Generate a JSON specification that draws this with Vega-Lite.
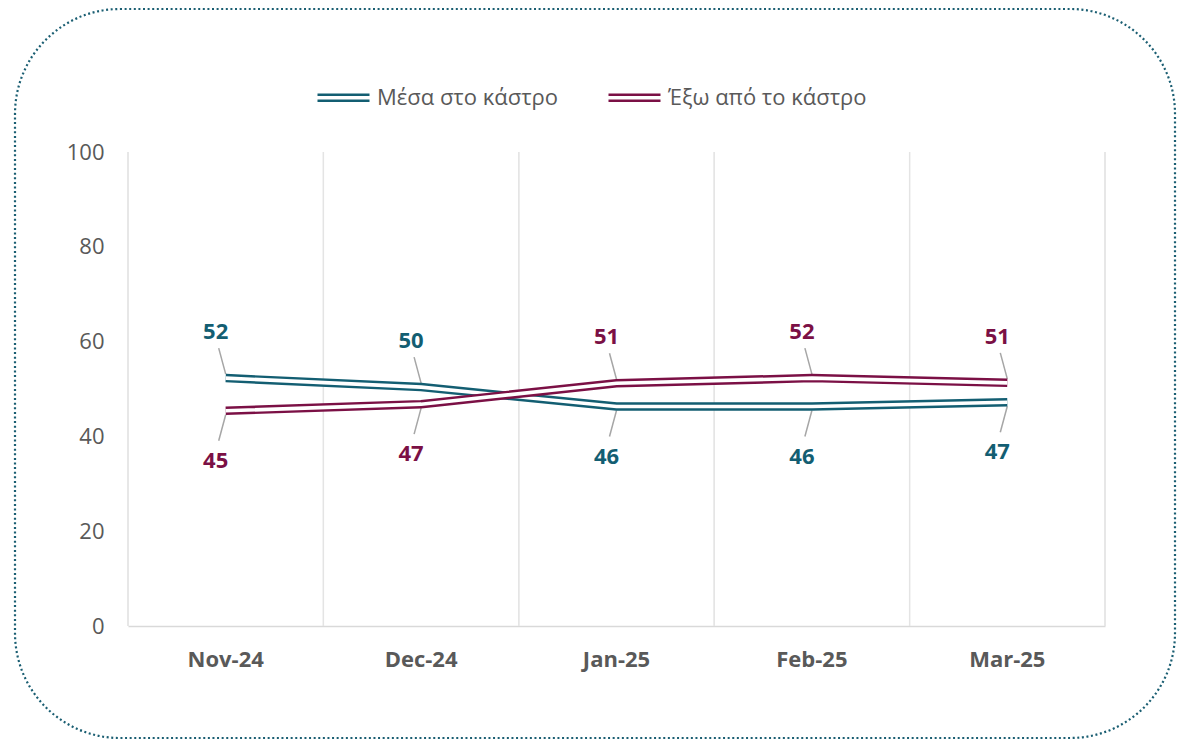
{
  "$schema": "https://vega.github.io/schema/vega-lite/v6.json",
  "autosize": {"type": "none"},
  "padding": {"left": 15, "top": 9, "right": 3, "bottom": 3},
  "width": 1160,
  "height": 729,
  "background": "white",
  "config": {
    "font": "Open Sans",
    "view": {"stroke": "#1A5E72", "strokeWidth": 2.2, "strokeDash": [2, 2.6], "cornerRadius": 105, "fill": "white"}
  },
  "data": {
    "values": [
      {"month": "Nov-24", "series": "Μέσα στο κάστρο", "value": 52.3},
      {"month": "Dec-24", "series": "Μέσα στο κάστρο", "value": 50.4},
      {"month": "Jan-25", "series": "Μέσα στο κάστρο", "value": 46.3},
      {"month": "Feb-25", "series": "Μέσα στο κάστρο", "value": 46.3},
      {"month": "Mar-25", "series": "Μέσα στο κάστρο", "value": 47.2},
      {"month": "Nov-24", "series": "Έξω από το κάστρο", "value": 45.4},
      {"month": "Dec-24", "series": "Έξω από το κάστρο", "value": 46.8},
      {"month": "Jan-25", "series": "Έξω από το κάστρο", "value": 51.2},
      {"month": "Feb-25", "series": "Έξω από το κάστρο", "value": 52.3},
      {"month": "Mar-25", "series": "Έξω από το κάστρο", "value": 51.3}
    ]
  },
  "transform": [
    {"joinaggregate": [{"op": "max", "field": "value", "as": "maxv"}], "groupby": ["month"]}
  ],
  "encoding": {
    "x": {
      "field": "month", "type": "nominal",
      "scale": {"type": "band", "domain": ["Nov-24", "Dec-24", "Jan-25", "Feb-25", "Mar-25"], "range": [113, 1090], "paddingInner": 0, "paddingOuter": 0},
      "axis": {
        "title": null, "orient": "bottom", "offset": -112, "labelAngle": 0,
        "ticks": false, "grid": false,
        "domainColor": "#D9D9D9", "domainWidth": 1.5,
        "labelFont": "Open Sans", "labelFontSize": 22, "labelFontWeight": "bold", "labelColor": "#595959", "labelPadding": 23
      }
    },
    "y": {
      "field": "value", "type": "quantitative",
      "scale": {"domain": [0, 100], "range": [617, 143], "nice": false, "zero": true},
      "axis": {
        "title": null, "orient": "left", "offset": -113, "values": [0, 20, 40, 60, 80, 100],
        "grid": false, "domain": false, "ticks": false,
        "labelFont": "Open Sans", "labelFontSize": 22, "labelColor": "#595959", "labelPadding": 24
      }
    }
  },
  "layer": [
    {
      "mark": {"type": "rule", "color": "#E4E4E4", "strokeWidth": 1.3},
      "encoding": {
        "x": {"field": "month", "type": "nominal", "bandPosition": 0},
        "y": {"datum": 0},
        "y2": {"datum": 100}
      }
    },
    {
      "transform": [{"filter": "datum.month == 'Mar-25'"}],
      "mark": {"type": "rule", "color": "#E4E4E4", "strokeWidth": 1.3},
      "encoding": {
        "x": {"field": "month", "type": "nominal", "bandPosition": 1},
        "y": {"datum": 0},
        "y2": {"datum": 100}
      }
    },
    {
      "transform": [{"filter": "datum.value == datum.maxv"}],
      "mark": {"type": "rule", "color": "#A6A6A6", "strokeWidth": 1.5, "yOffset": -4, "y2Offset": -30, "x2Offset": -7},
      "encoding": {"x2": {"field": "month"}, "y2": {"field": "value"}}
    },
    {
      "transform": [{"filter": "datum.value < datum.maxv"}],
      "mark": {"type": "rule", "color": "#A6A6A6", "strokeWidth": 1.5, "yOffset": 4, "y2Offset": 30, "x2Offset": -7},
      "encoding": {"x2": {"field": "month"}, "y2": {"field": "value"}}
    },
    {
      "transform": [{"filter": "datum.series == 'Μέσα στο κάστρο'"}],
      "mark": {"type": "line", "strokeWidth": 8.5, "strokeCap": "butt"},
      "encoding": {
        "color": {
          "field": "series", "type": "nominal",
          "scale": {"domain": ["Μέσα στο κάστρο", "Έξω από το κάστρο"], "range": ["#135E72", "#7B1045"]},
          "legend": {
            "title": null, "orient": "none", "direction": "horizontal", "legendX": 301, "legendY": 61,
            "symbolType": "M-1,-0.115H1M-1,0.115H1", "symbolSize": 2704, "symbolStrokeWidth": 2.6,
            "labelFont": "Open Sans", "labelFontSize": 22, "labelColor": "#595959", "labelOffset": 6,
            "columnPadding": 44, "labelLimit": 400
          }
        }
      }
    },
    {
      "transform": [{"filter": "datum.series == 'Μέσα στο κάστρο'"}],
      "mark": {"type": "line", "strokeWidth": 3.6, "color": "white", "strokeCap": "butt"},
      "encoding": {}
    },
    {
      "transform": [{"filter": "datum.series == 'Έξω από το κάστρο'"}],
      "mark": {"type": "line", "strokeWidth": 8.5, "strokeCap": "butt"},
      "encoding": {"color": {"field": "series", "type": "nominal"}}
    },
    {
      "transform": [{"filter": "datum.series == 'Έξω από το κάστρο'"}],
      "mark": {"type": "line", "strokeWidth": 3.6, "color": "white", "strokeCap": "butt"},
      "encoding": {}
    },
    {
      "transform": [{"filter": "datum.value == datum.maxv"}],
      "mark": {"type": "text", "dy": -46, "dx": -10, "fontSize": 22, "fontWeight": "bold", "font": "Open Sans", "baseline": "middle"},
      "encoding": {
        "text": {"field": "value", "type": "quantitative", "format": ".0f"},
        "color": {"field": "series", "type": "nominal", "legend": null}
      }
    },
    {
      "transform": [{"filter": "datum.value < datum.maxv"}],
      "mark": {"type": "text", "dy": 50, "dx": -10, "fontSize": 22, "fontWeight": "bold", "font": "Open Sans", "baseline": "middle"},
      "encoding": {
        "text": {"field": "value", "type": "quantitative", "format": ".0f"},
        "color": {"field": "series", "type": "nominal", "legend": null}
      }
    }
  ]
}
